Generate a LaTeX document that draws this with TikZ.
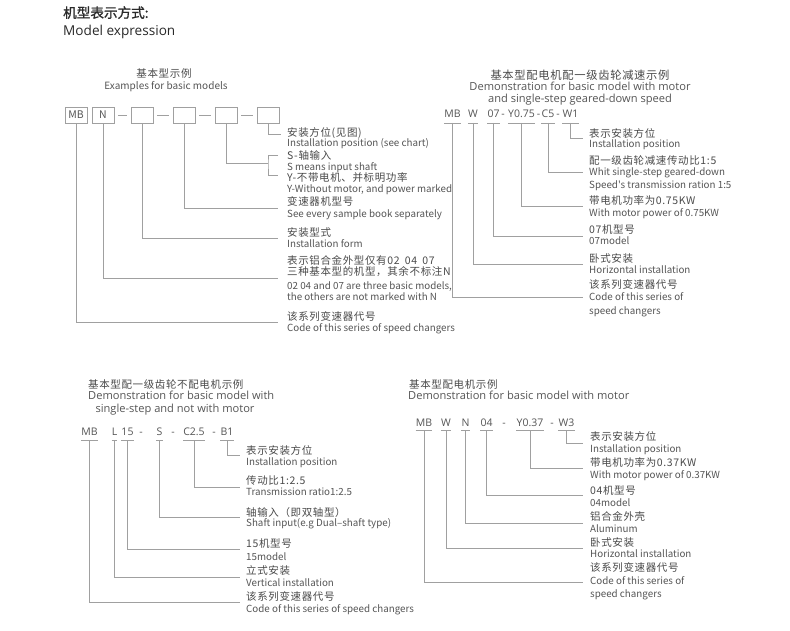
\documentclass[tikz,border=0pt]{standalone}
\usepackage{fontspec}
\setmainfont{Open Sans}
\newfontfamily\zhf[LetterSpace=6]{Noto Sans CJK SC}
\newfontfamily\zhb[FakeBold=1.2]{Noto Sans CJK SC}
\newfontfamily\enf{Noto Sans CJK SC}
\newfontfamily\widef{Open Sans}
\definecolor{zhcol}{HTML}{4A4A4A}
\definecolor{encol}{HTML}{555555}
\definecolor{lncol}{HTML}{A0A0A0}
\definecolor{ttlcol}{HTML}{2A2A2A}
\begin{document}
\begin{tikzpicture}[x=1pt,y=-1pt,
  ln/.style={draw=lncol, line width=0.9pt},
  en/.style={anchor=base west, inner sep=0pt, yshift=-3.5pt, text=encol, font=\enf\fontsize{9.8}{12}\selectfont},
  zh/.style={anchor=base west, inner sep=0pt, yshift=-4.2pt, text=zhcol, font=\zhf\fontsize{10.5}{12}\selectfont},
  hd/.style={anchor=base, inner sep=0pt, yshift=-3.8pt, text=encol, font=\widef\fontsize{11.1}{13}\selectfont},
  tok/.style={anchor=base, inner sep=0pt, yshift=-3.7pt, text=encol, font=\widef\fontsize{10.5}{13}\selectfont},
  cbox/.style={draw=lncol, line width=0.9pt, minimum width=22pt, minimum height=16pt, inner sep=0pt, text=encol, font=\enf\fontsize{10.5}{11}\selectfont},
  ttl/.style={anchor=base west, inner sep=0pt, yshift=-4.8pt, text=ttlcol}
]
\fill[white] (0,0) rectangle (790,631);
\useasboundingbox (0,0) rectangle (790,631);

% ---------- title ----------
\node[ttl, font=\zhb\fontsize{13.6}{15}\selectfont] (ttl1) at (63,13) {机型表示方式:};
\node[ttl, font=\widef\fontsize{13.6}{15}\selectfont] (ttl2) at (63,31) {Model expression};

% ---------- top left ----------
\node[zh, anchor=base] (h1a) at (164,73) {基本型示例};
\node[en, anchor=base, font=\enf\fontsize{10}{12}\selectfont] (h1b) at (166,86) {Examples for basic models};

\node[cbox] (bMB) at (76,115) {MB};
\node[cbox] (bN) at (103,115) {N};
\node[cbox] (b3) at (142,115) {};
\node[cbox] (b4) at (184,115) {};
\node[cbox] (b5) at (226,115) {};
\node[cbox] (b6) at (268,115) {};
\draw[ln] ([xshift=4pt]bN.east) -- ([xshift=-4pt]b3.west);
\draw[ln] ([xshift=4pt]b3.east) -- ([xshift=-4pt]b4.west);
\draw[ln] ([xshift=4pt]b4.east) -- ([xshift=-4pt]b5.west);
\draw[ln] ([xshift=4pt]b5.east) -- ([xshift=-4pt]b6.west);

\coordinate (e6) at (281,134);
\draw[ln] (b6.south) |- (e6);
\coordinate (e5) at (268,163);
\draw[ln] (b5.south) |- (e5);
\coordinate (k1) at (278,155);
\coordinate (k2) at (278,175);
\draw[ln] (k1) -| (e5) |- (k2);
\coordinate (e4) at (278,208);
\draw[ln] (b4.south) |- (e4);
\coordinate (e3) at (278,238);
\draw[ln] (b3.south) |- (e3);
\coordinate (e2) at (278,278);
\draw[ln] (bN.south) |- (e2);
\coordinate (e1) at (278,322);
\draw[ln] (bMB.south) |- (e1);

\node[zh] (l1a) at (287,132) {安装方位(见图)};
\node[en] (l1b) at (287,143) {Installation position (see chart)};
\node[zh] (l2a) at (287,155.5) {S-轴输入};
\node[en] (l2b) at (287,167) {S means input shaft};
\node[zh] (l2c) at (287,177) {Y-不带电机、并标明功率};
\node[en] (l2d) at (287,189) {Y-Without motor, and power marked};
\node[zh] (l3a) at (287,201) {变速器机型号};
\node[en] (l3b) at (287,214) {See every sample book separately};
\node[zh] (l4a) at (287,232) {安装型式};
\node[en] (l4b) at (287,244) {Installation form};
\node[zh] (l5a) at (287,260) {表示铝合金外型仅有02\enspace 04\enspace 07};
\node[zh] (l5b) at (287,271) {三种基本型的机型，其余不标注N};
\node[en] (l5c) at (287,286) {02 04 and 07 are three basic models,};
\node[en] (l5d) at (287,297) {the others are not marked with N};
\node[zh] (l6a) at (287,316) {该系列变速器代号};
\node[en] (l6b) at (287,328) {Code of this series of speed changers};

% ---------- top right ----------
\node[zh, anchor=base, font=\zhf\fontsize{11.3}{13}\selectfont] (h2a) at (580,75) {基本型配电机配一级齿轮减速示例};
\node[hd] (h2b) at (580,87) {Demonstration for basic model with motor};
\node[hd] (h2c) at (580,99) {and single-step geared-down speed};

\node[tok] (r1) at (452.5,114) {MB};
\node[tok] (r2) at (473,114) {W};
\node[tok] (r3) at (493.5,114) {07};
\node[tok] (rd1) at (503,114) {-};
\node[tok] (r4) at (521.5,114) {Y0.75};
\node[tok] (rd2) at (538.5,114) {-};
\node[tok] (r5) at (548,114) {C5};
\node[tok] (rd3) at (558,114) {-};
\node[tok] (r6) at (570.5,114) {W1};
\coordinate (ru) at (0,123);
\foreach \t in {r1,r2,r3,r4,r5,r6}{\draw[ln] (\t.west |- ru) -- (\t.east |- ru);}
\coordinate (re6) at (583,138);
\coordinate (re5) at (583,172);
\coordinate (re4) at (583,206);
\coordinate (re3) at (583,236);
\coordinate (re2) at (583,264);
\coordinate (re1) at (583,297);
\draw[ln] (r6.center |- ru) |- (re6);
\draw[ln] (r5.center |- ru) |- (re5);
\draw[ln] (r4.center |- ru) |- (re4);
\draw[ln] (r3.center |- ru) |- (re3);
\draw[ln] (r2.center |- ru) |- (re2);
\draw[ln] (r1.center |- ru) |- (re1);

\node[zh] (m1a) at (589,133) {表示安装方位};
\node[en] (m1b) at (589,144) {Installation position};
\node[zh] (m2a) at (589,160) {配一级齿轮减速传动比1:5};
\node[en] (m2b) at (589,172) {Whit single-step geared-down};
\node[en] (m2c) at (589,185) {Speed's transmission ration 1:5};
\node[zh] (m3a) at (589,200) {带电机功率为0.75KW};
\node[en] (m3b) at (589,213) {With motor power of 0.75KW};
\node[zh] (m4a) at (589,229) {07机型号};
\node[en] (m4b) at (589,241) {07model};
\node[zh] (m5a) at (589,258) {卧式安装};
\node[en] (m5b) at (589,270) {Horizontal installation};
\node[zh] (m6a) at (589,284) {该系列变速器代号};
\node[en] (m6b) at (589,297) {Code of this series of};
\node[en] (m6c) at (589,311) {speed changers};

% ---------- bottom left ----------
\node[zh] (h3a) at (88,384) {基本型配一级齿轮不配电机示例};
\node[hd, anchor=base west] (h3b) at (88,396) {Demonstration for basic model with};
\node[hd] (h3c) at (175,409) {single-step and not with motor};

\node[tok] (s1) at (89.5,432) {MB};
\node[tok] (s2) at (114.5,432) {L};
\node[tok] (s3) at (127.5,432) {15};
\node[tok] (sd1) at (141,432) {-};
\node[tok] (s4) at (159.5,432) {S};
\node[tok] (sd2) at (173,432) {-};
\node[tok] (s5) at (194,432) {C2.5};
\node[tok] (sd3) at (214,432) {-};
\node[tok] (s6) at (227,432) {B1};
\coordinate (su) at (0,440);
\foreach \t in {s1,s2,s3,s4,s5,s6}{\draw[ln] (\t.west |- su) -- (\t.east |- su);}
\coordinate (se6) at (240,455);
\coordinate (se5) at (240,487);
\coordinate (se4) at (240,517);
\coordinate (se3) at (240,549);
\coordinate (se2) at (240,577);
\coordinate (se1) at (240,602);
\draw[ln] (s6.center |- su) |- (se6);
\draw[ln] (s5.center |- su) |- (se5);
\draw[ln] (s4.center |- su) |- (se4);
\draw[ln] (s3.center |- su) |- (se3);
\draw[ln] (s2.center |- su) |- (se2);
\draw[ln] (s1.center |- su) |- (se1);

\node[zh] (n1a) at (246,450) {表示安装方位};
\node[en] (n1b) at (246,461.5) {Installation position};
\node[zh] (n2a) at (246,480) {传动比1:2.5};
\node[en] (n2b) at (246,492) {Transmission ratio1:2.5};
\node[zh] (n3a) at (246,512) {轴输入（即双轴型）};
\node[en] (n3b) at (246,523) {Shaft input(e.g Dual–shaft type)};
\node[zh] (n4a) at (246,543) {15机型号};
\node[en] (n4b) at (246,557) {15model};
\node[zh] (n5a) at (246,570) {立式安装};
\node[en] (n5b) at (246,583) {Vertical installation};
\node[zh] (n6a) at (246,596) {该系列变速器代号};
\node[en] (n6b) at (246,609) {Code of this series of speed changers};

% ---------- bottom right ----------
\node[zh] (h4a) at (409,384) {基本型配电机示例};
\node[hd, anchor=base west] (h4b) at (408,396) {Demonstration for basic model with motor};

\node[tok] (q1) at (424,423) {MB};
\node[tok] (q2) at (446,423) {W};
\node[tok] (q3) at (465.5,423) {N};
\node[tok] (q4) at (486.5,423) {04};
\node[tok] (qd1) at (504,423) {-};
\node[tok] (q5) at (530,423) {Y0.37};
\node[tok] (qd2) at (552,423) {-};
\node[tok] (q6) at (566.5,423) {W3};
\coordinate (qu) at (0,430);
\foreach \t in {q1,q2,q3,q4,q5,q6}{\draw[ln] (\t.west |- qu) -- (\t.east |- qu);}
\coordinate (qe6) at (583,443);
\coordinate (qe5) at (583,468);
\coordinate (qe4) at (583,495);
\coordinate (qe3) at (583,523);
\coordinate (qe2) at (583,548);
\coordinate (qe1) at (583,582);
\draw[ln] (q6.center |- qu) |- (qe6);
\draw[ln] (q5.center |- qu) |- (qe5);
\draw[ln] (q4.center |- qu) |- (qe4);
\draw[ln] (q3.center |- qu) |- (qe3);
\draw[ln] (q2.center |- qu) |- (qe2);
\draw[ln] (q1.center |- qu) |- (qe1);

\node[zh] (p1a) at (590,436.5) {表示安装方位};
\node[en] (p1b) at (590,448.5) {Installation position};
\node[zh] (p2a) at (590,462) {带电机功率为0.37KW};
\node[en] (p2b) at (590,475) {With motor power of 0.37KW};
\node[zh] (p3a) at (590,490) {04机型号};
\node[en] (p3b) at (590,503) {04model};
\node[zh] (p4a) at (590,516.5) {铝合金外壳};
\node[en] (p4b) at (590,528.5) {Aluminum};
\node[zh] (p5a) at (590,542) {卧式安装};
\node[en] (p5b) at (590,554) {Horizontal installation};
\node[zh] (p6a) at (590,567) {该系列变速器代号};
\node[en] (p6b) at (590,581) {Code of this series of};
\node[en] (p6c) at (590,594) {speed changers};
\end{tikzpicture}
\end{document}
